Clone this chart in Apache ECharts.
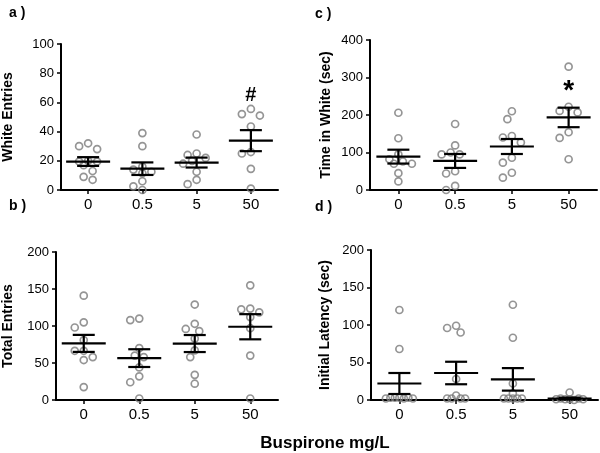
<!DOCTYPE html>
<html>
<head>
<meta charset="utf-8">
<script src="https://cdn.jsdelivr.net/npm/echarts@6/dist/echarts.min.js"></script>
<style>html,body{margin:0;padding:0;background:#fff}#c{width:600px;height:453px}</style>
</head>
<body>
<div id="c"></div>
<script>
// ---- data ----
const categories = ['0', '0.5', '5', '50'];

// a) White Entries
const whiteEntries = [
  [32, 28, 30, 20, 19.5, 19.5, 13, 17, 7, 9],
  [39, 30, 16, 12.5, 11.5, 14, 6, 0, 2.5],
  [38, 24, 25, 22, 20, 18, 12.5, 7, 4],
  [55.5, 51, 52, 43.5, 25, 26, 14.5, 1]
];
const whiteEntriesMean = [19.5, 14.6, 18.8, 33.8];
const whiteEntriesSem = [3, 4.3, 3.4, 7.2];

// b) Total Entries
const totalEntries = [
  [141, 105, 98, 81, 66.5, 66.5, 58, 54, 17.5],
  [108, 110, 70, 60, 58, 44, 32, 24, 2],
  [129, 96, 103, 93, 83, 67, 58, 34, 22],
  [155, 123.5, 118.5, 122.5, 112, 97, 60, 2]
];
const totalEntriesMean = [76.5, 56.6, 76.3, 99];
const totalEntriesSem = [11.5, 12, 11.5, 17];

// c) Time in White (sec)
const timeInWhite = [
  [206, 138, 82, 95, 70, 70, 76, 45, 23],
  [176, 100, 95, 95, 119, 50, 44, 11, 0],
  [210, 189, 144, 140, 127, 86, 73, 46, 33],
  [329, 211, 207, 222, 154, 139, 82]
];
const timeInWhiteMean = [89, 77.5, 116, 193.5];
const timeInWhiteSem = [18.5, 18.6, 20, 26];

// d) Initial Latency (sec)
const initialLatency = [
  [120, 68, 3, 2, 3, 2, 3, 2, 3],
  [99, 90, 96, 28, 6, 2, 2, 2, 2],
  [127, 83, 22, 9, 2, 2, 2, 2, 2],
  [2, 1, 1, 0, 1, 2, 1, 10]
];
const initialLatencyMean = [22, 36, 27.5, 2];
const initialLatencySem = [14, 15, 15, 1.2];

const yTitles = ['White Entries', 'Total Entries', 'Time in White (sec)', 'Initial Latency (sec)'];
const yMax = [100, 200, 400, 200];
const yStep = [20, 50, 100, 50];
const panelLabels = ['a )', 'b )', 'c )', 'd )'];
const xTitle = 'Buspirone mg/L';
// significance marks: [panel, category index, value, text]
const marks = [[0, 3, 65, '#'], [2, 3, 262, '*']];

// ---- layout / style ----
const FONT = '"Liberation Sans", Arial, Helvetica, sans-serif';
const grids = [
  {left: 60, top: 44, width: 218, height: 146},
  {left: 54, top: 252, width: 224, height: 148},
  {left: 370, top: 40, width: 227, height: 150},
  {left: 371, top: 250, width: 227, height: 150}
];
const nameGaps = [46, 41, 37, 39];
const labelPos = [[9, 6], [9, 199], [315, 7], [315, 200]];

const panels = [
  [whiteEntries, whiteEntriesMean, whiteEntriesSem],
  [totalEntries, totalEntriesMean, totalEntriesSem],
  [timeInWhite, timeInWhiteMean, timeInWhiteSem],
  [initialLatency, initialLatencyMean, initialLatencySem]
];

// beeswarm-style horizontal spreading (pixel space), capped width
function swarm(values, pxPerUnit) {
  const D = 8, S = 4.5, MAXK = 3;
  const idx = values.map((v, i) => i).sort((a, b) => values[b] - values[a]);
  const placed = [];
  const off = new Array(values.length).fill(0);
  const cands = [0];
  for (let k = 1; k <= MAXK; k++) { cands.push(-k * S, k * S); }
  idx.forEach(i => {
    const y = values[i] * pxPerUnit;
    let best = null, bestD = -1;
    for (const dx of cands) {
      let md = Infinity;
      placed.forEach(p => { md = Math.min(md, Math.hypot(p.x - dx, p.y - y)); });
      if (md >= D) { best = dx; break; }
      if (md > bestD + 0.01) { bestD = md; best = dx; }
    }
    off[i] = best; placed.push({x: best, y});
  });
  return off;
}

const xAxis = [], yAxis = [], series = [];
panels.forEach((p, g) => {
  xAxis.push({
    type: 'category', gridIndex: g, data: categories, boundaryGap: true,
    axisLine: {lineStyle: {color: '#000', width: 2}},
    axisTick: {show: true, alignWithLabel: true, length: 4, lineStyle: {color: '#000', width: 1.5}},
    axisLabel: {color: '#000', fontSize: 15, fontFamily: FONT, margin: 7},
    splitLine: {show: false}
  });
  yAxis.push({
    type: 'value', gridIndex: g, min: 0, max: yMax[g], interval: yStep[g],
    name: yTitles[g], nameLocation: 'middle', nameRotate: 90, nameGap: nameGaps[g],
    nameTextStyle: {color: '#000', fontSize: 14, fontWeight: 'bold', fontFamily: FONT},
    axisLine: {show: true, lineStyle: {color: '#000', width: 2}},
    axisTick: {show: true, length: 4, lineStyle: {color: '#000', width: 1.5}},
    axisLabel: {color: '#000', fontSize: 13, fontFamily: FONT, margin: 7},
    splitLine: {show: false}
  });
  const ppu = grids[g].height / yMax[g];
  const pts = [];
  p[0].forEach((vals, ci) => {
    const off = swarm(vals, ppu);
    vals.forEach((v, k) => pts.push({value: [ci, v], symbolOffset: [off[k], 0]}));
  });
  series.push({
    type: 'scatter', xAxisIndex: g, yAxisIndex: g, data: pts,
    symbol: 'circle', symbolSize: 7, z: 2, silent: true,
    itemStyle: {color: 'rgba(255,255,255,0)', borderColor: '#7a7a7a', borderWidth: 1.7}
  });
  series.push({
    type: 'custom', xAxisIndex: g, yAxisIndex: g, z: 3, silent: true,
    data: p[1].map((m, ci) => [ci, m, p[2][ci]]),
    renderItem: function (params, api) {
      const x = api.value(0), m = api.value(1), se = api.value(2);
      const c = api.coord([x, m]);
      const hi = api.coord([x, m + se]);
      const lo = api.coord([x, Math.max(0, m - se)]);
      const st = {stroke: '#000', lineWidth: 2.2};
      return {type: 'group', children: [
        {type: 'line', shape: {x1: c[0] - 22, y1: c[1], x2: c[0] + 22, y2: c[1]}, style: st},
        {type: 'line', shape: {x1: c[0], y1: hi[1], x2: c[0], y2: lo[1]}, style: st},
        {type: 'line', shape: {x1: c[0] - 11, y1: hi[1], x2: c[0] + 11, y2: hi[1]}, style: st},
        {type: 'line', shape: {x1: c[0] - 11, y1: lo[1], x2: c[0] + 11, y2: lo[1]}, style: st}
      ]};
    }
  });
});

marks.forEach(mk => {
  series.push({
    type: 'custom', xAxisIndex: mk[0], yAxisIndex: mk[0], z: 4, silent: true,
    data: [[mk[1], mk[2]]],
    renderItem: function (params, api) {
      const c = api.coord([api.value(0), api.value(1)]);
      return {type: 'text', x: c[0], y: c[1], style: {
        text: mk[3], fill: '#000', font: (mk[3] === '*' ? 'bold 28px ' : 'bold 20px ') + FONT,
        textAlign: 'center', textVerticalAlign: 'middle'}};
    }
  });
});

const graphic = panelLabels.map((t, i) => ({
  type: 'text', left: labelPos[i][0], top: labelPos[i][1],
  style: {text: t, fill: '#000', font: 'bold 14px ' + FONT}
}));
graphic.push({
  type: 'text', x: 325, y: 443,
  style: {text: xTitle, fill: '#000', font: 'bold 17px ' + FONT, textAlign: 'center', textVerticalAlign: 'middle'}
});

const chart = echarts.init(document.getElementById('c'), null, {renderer: 'canvas'});
chart.setOption({
  animation: false,
  backgroundColor: '#fff',
  grid: grids,
  xAxis: xAxis,
  yAxis: yAxis,
  series: series,
  graphic: graphic
});
</script>
</body>
</html>
